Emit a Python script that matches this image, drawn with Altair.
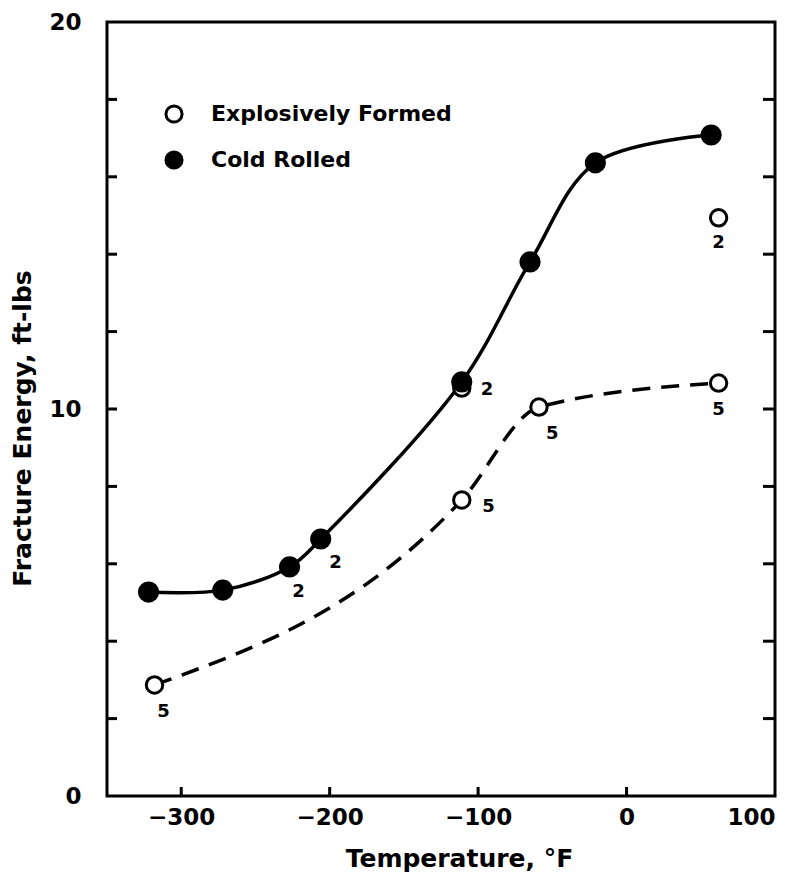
import altair as alt
import pandas as pd

# ---- data ----
series_names = ["Explosively Formed", "Cold Rolled"]

cold_temp = [-322, -272, -227, -206, -111, -65, -21, 57]
cold_energy = [5.27, 5.32, 5.92, 6.64, 10.7, 13.8, 16.36, 17.08]

open_temp = [-318, -111, -111, -59, 62, 62]
open_energy = [2.87, 10.54, 7.65, 10.05, 14.94, 10.67]
open_on_curve = [True, False, True, True, False, True]

# specimen-count annotations (position in data units, text)
count_temp = [-221, -196, -94, -93, -50, 62, 62, -312]
count_energy = [5.27, 6.02, 10.49, 7.47, 9.35, 14.29, 9.97, 2.17]
count_text = ["2", "2", "2", "5", "5", "2", "5", "5"]

x_domain = [-350, 100]
y_domain = [0, 20]
x_label_values = [-300, -200, -100, 0, 100]
x_inner_ticks = [-300, -200, -100, 0]
y_label_values = [0, 10, 20]
y_minor_ticks = [2, 4, 6, 8, 10, 12, 14, 16, 18]

# ---- tables ----
W, H = 668, 774
FONT = "DejaVu Sans"

cold_df = pd.DataFrame({"temp": cold_temp, "energy": cold_energy,
                        "series": [series_names[1]] * len(cold_temp)})
open_df = pd.DataFrame({"temp": open_temp, "energy": open_energy, "on": open_on_curve,
                        "series": [series_names[0]] * len(open_temp)})
open_curve_df = open_df[open_df["on"]]
ann_df = pd.DataFrame({"temp": count_temp, "energy": count_energy, "txt": count_text})
xt_df = pd.DataFrame({"temp": x_inner_ticks})
yt_df = pd.DataFrame({"energy": y_minor_ticks})

xscale = alt.Scale(domain=x_domain, nice=False, zero=False)
yscale = alt.Scale(domain=y_domain, nice=False, zero=False)

x_axis = alt.Axis(values=x_label_values, domain=False, ticks=False, grid=False,
                  labelFont=FONT, labelFontSize=23, labelFontWeight="bold", labelColor="black",
                  labelPadding=10, title="Temperature, °F", titleFont=FONT, titleFontSize=25,
                  titleFontWeight="bold", titleColor="black", titleX=352, titleY=62,
                  titleBaseline="middle", titleAlign="center")
y_axis = alt.Axis(values=y_label_values, domain=False, ticks=False, grid=False,
                  labelFont=FONT, labelFontSize=23, labelFontWeight="bold", labelColor="black",
                  labelPadding=26, title="Fracture Energy, ft-lbs", titleFont=FONT,
                  titleFontSize=25, titleFontWeight="bold", titleColor="black",
                  titleX=-85, titleY=406, titleAngle=-90, titleBaseline="middle",
                  titleAlign="center")

X = alt.X("temp:Q", scale=xscale, axis=x_axis)
Y = alt.Y("energy:Q", scale=yscale, axis=y_axis)

legend = alt.Legend(orient="none", legendX=56, legendY=81, title=None,
                    labelFont=FONT, labelFontSize=22, labelFontWeight="bold",
                    labelColor="black", labelLimit=500, symbolType="circle",
                    symbolStrokeColor="black", symbolStrokeWidth=3,
                    symbolSize=260, rowPadding=16, labelOffset=26, padding=0)
FILL = alt.Fill("series:N", scale=alt.Scale(domain=series_names, range=["white", "black"]),
                legend=legend)

cold_line = alt.Chart(cold_df).mark_line(
    color="black", strokeWidth=3.5, interpolate="catmull-rom"
).encode(x=X, y=Y)

open_line = alt.Chart(open_curve_df).mark_line(
    color="black", strokeWidth=3.5, interpolate="monotone", strokeDash=[18, 11]
).encode(x=X, y=Y)

open_pts = alt.Chart(open_df).mark_point(
    shape="circle", filled=True, stroke="black", strokeWidth=3, opacity=1, size=270
).encode(x=X, y=Y, fill=FILL)

cold_pts = alt.Chart(cold_df).mark_point(
    shape="circle", filled=True, stroke="black", strokeWidth=3, opacity=1, size=330
).encode(x=X, y=Y, fill=FILL)

ann = alt.Chart(ann_df).mark_text(
    font=FONT, fontSize=18, fontWeight="bold", color="black", baseline="middle", align="center"
).encode(x=X, y=Y, text="txt:N")

xticks = alt.Chart(xt_df).mark_rule(color="black", strokeWidth=3).encode(
    x=X, y=alt.value(H), y2=alt.value(H - 9))
yticks_l = alt.Chart(yt_df).mark_rule(color="black", strokeWidth=3).encode(
    y=Y, x=alt.value(0), x2=alt.value(10))
yticks_r = alt.Chart(yt_df).mark_rule(color="black", strokeWidth=3).encode(
    y=Y, x=alt.value(W), x2=alt.value(W - 12))

chart = alt.layer(
    cold_line, open_line, xticks, yticks_l, yticks_r, open_pts, cold_pts, ann
).properties(
    width=W, height=H,
    autosize=alt.AutoSizeParams(type="none"),
    padding={"left": 107, "top": 22, "right": 28, "bottom": 86},
    background="white",
).configure_view(
    stroke="black", strokeWidth=3
)

chart.save("out.html", embed_options={"renderer": "svg", "actions": False})
